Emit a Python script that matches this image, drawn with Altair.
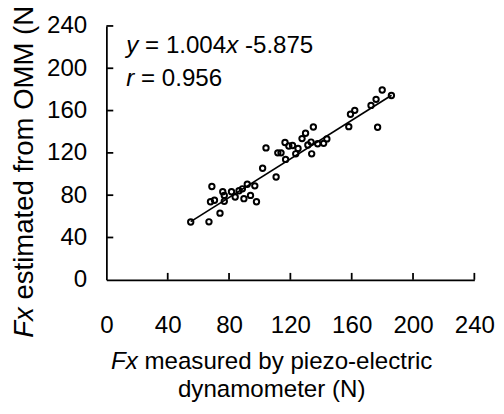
import altair as alt
import pandas as pd

# ---- data ----
measured = [55.0, 66.9, 74.1, 68.8, 67.9, 70.5, 75.9, 76.9, 76.9, 81.6, 84.0, 86.5,
            88.7, 89.7, 91.9, 94.0, 96.8, 97.9, 101.9, 104.1, 110.7, 111.8, 113.9,
            116.5, 116.9, 119.0, 121.4, 123.5, 125.0, 127.6, 129.9, 131.4, 133.5,
            133.9, 135.0, 137.8, 141.7, 143.8, 158.1, 159.2, 162.0, 172.6, 175.9,
            176.9, 179.9, 185.9]
estimated = [54.6, 54.8, 63.0, 88.2, 73.8, 75.2, 83.2, 79.8, 74.2, 83.2, 78.3, 84.2,
             86.0, 76.7, 90.3, 79.8, 88.8, 73.8, 105.5, 124.7, 97.2, 120.0, 120.0,
             129.8, 113.8, 126.5, 127.0, 119.1, 124.1, 133.5, 138.6, 127.4, 130.2,
             119.1, 144.5, 128.6, 129.0, 133.2, 144.8, 156.5, 160.2, 164.9, 170.6,
             144.2, 179.4, 174.2]
fit_x = [55.0, 186.0]
fit_y = [55.0, 174.5]
tick_values = [0, 40, 80, 120, 160, 200, 240]
inner_ticks = [40, 80, 120, 160, 200, 240]

W, H = 374, 258
FONT = "Liberation Sans"
FS = 24.5
FS_Y = 28
SP = 0.278  # width of a space, in em

xscale = alt.Scale(domain=[0, 240], nice=False, zero=False)
yscale = alt.Scale(domain=[0, 240], nice=False, zero=False)

x_axis = alt.Axis(values=tick_values, grid=False, ticks=False, tickSize=0,
                  domainColor="black", domainWidth=1.8, labelFont=FONT,
                  labelFontSize=FS, labelColor="black", labelPadding=35,
                  labelBaseline="top", labelFlush=False, labelOverlap=False,
                  title=None)
y_axis = alt.Axis(values=tick_values, grid=False, ticks=False, tickSize=0,
                  domainColor="black", domainWidth=1.8, labelFont=FONT,
                  labelFontSize=FS, labelColor="black", labelPadding=20,
                  labelFlush=False, labelOverlap=False, title=None)

pts = pd.DataFrame({"x": measured, "y": estimated})
points = alt.Chart(pts).mark_point(filled=False, color="black", size=30,
                                   strokeWidth=2, opacity=1).encode(
    x=alt.X("x:Q", scale=xscale, axis=x_axis),
    y=alt.Y("y:Q", scale=yscale, axis=y_axis),
)

fit = alt.Chart(pd.DataFrame({"x": fit_x, "y": fit_y})).mark_line(
    color="black", strokeWidth=1.7).encode(
    x=alt.X("x:Q", scale=xscale), y=alt.Y("y:Q", scale=yscale))

xt = alt.Chart(pd.DataFrame({"v": inner_ticks})).mark_rule(
    color="black", strokeWidth=1.8).encode(
    x=alt.X("v:Q", scale=xscale), y=alt.value(H), y2=alt.value(H - 7))
yt = alt.Chart(pd.DataFrame({"v": inner_ticks})).mark_rule(
    color="black", strokeWidth=1.8).encode(
    y=alt.Y("v:Q", scale=yscale), x=alt.value(0), x2=alt.value(7))


def txt(s, x, y, italic=False, angle=0, align="left", size=FS):
    kw = dict(font=FONT, fontSize=size, color="black", align=align,
              baseline="alphabetic")
    if italic:
        kw["fontStyle"] = "italic"
    if angle:
        kw["angle"] = angle
    return alt.Chart(pd.DataFrame({"t": [s]})).mark_text(**kw).encode(
        x=alt.value(x), y=alt.value(y), text="t:N")


fx_w = 1.111 * FS
x0 = 20.3
texts = [
    # equation
    txt("y", x0, 27.7, italic=True),
    txt("= 1.004", x0 + (0.5 + SP) * FS, 27.7),
    txt("x", x0 + (0.5 + 3.642) * FS, 27.7, italic=True),
    txt("-5.875", x0 + (1.0 + 3.642 + SP) * FS, 27.7),
    txt("r", x0, 61, italic=True),
    txt("= 0.956", x0 + (0.333 + SP) * FS, 61),
    # x title
    txt("Fx", 4.7, 348.5, italic=True),
    txt("measured by piezo-electric", 4.7 + fx_w + SP * FS, 348.5),
    txt("dynamometer (N)", 168, 377, align="center"),
    # y title
    txt("Fx", -74.7, 317, italic=True, angle=270, size=FS_Y),
    txt("estimated from OMM (N)", -74.7, 317 - (1.111 + SP) * FS_Y,
        angle=270, size=FS_Y),
]

chart = alt.layer(xt, yt, fit, points, *texts).properties(
    width=W, height=H,
    autosize=alt.AutoSizeParams(type="none"),
    padding={"left": 100, "top": 15, "right": 22, "bottom": 123},
).configure_view(stroke=None)

chart.save("out.html", embed_options={"renderer": "svg", "actions": False})
